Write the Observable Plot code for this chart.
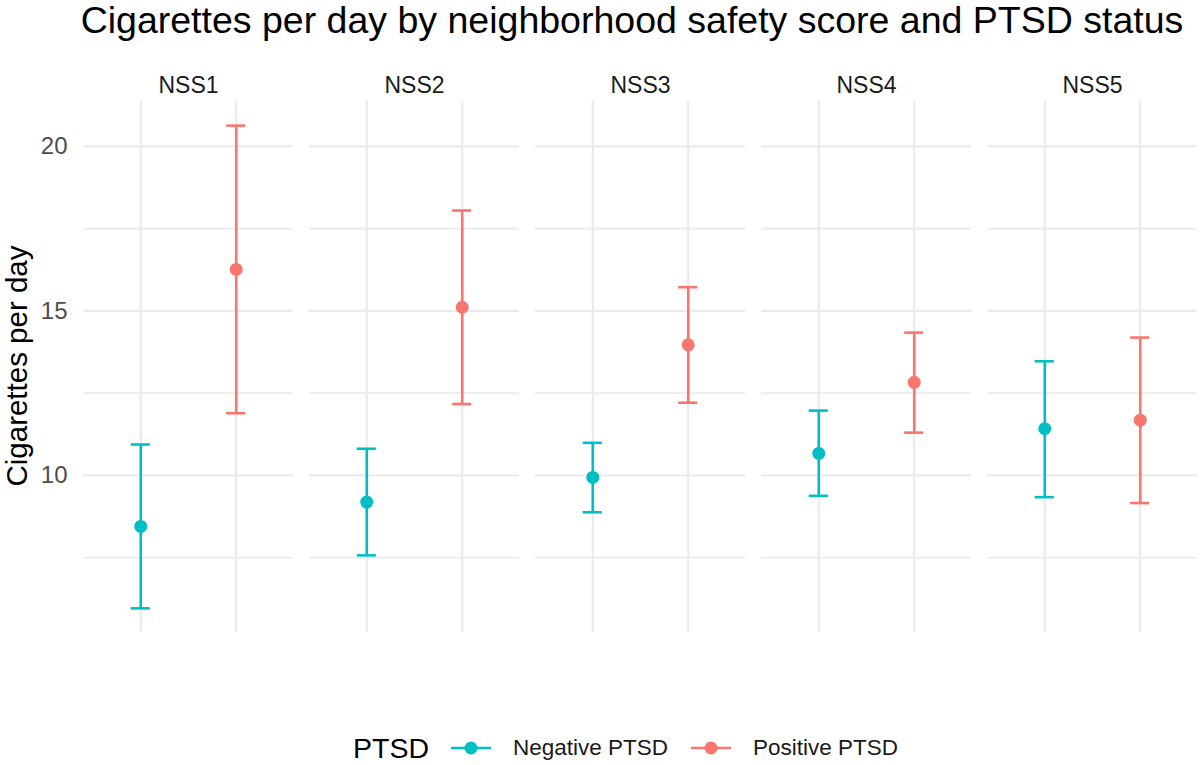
<!DOCTYPE html>
<html>
<head>
<meta charset="utf-8">
<script src="https://cdn.jsdelivr.net/npm/d3@7"></script>
<script src="https://cdn.jsdelivr.net/npm/@observablehq/plot@0.6"></script>
<style>
  html, body { margin: 0; padding: 0; background: #fff; }
  body { width: 1200px; height: 765px; position: relative; overflow: hidden; font-family: "Liberation Sans", Arial, sans-serif; }
  #title { position: absolute; left: 64px; width: 1136px; top: 2px; text-align: center; font-size: 37.5px; line-height: 37.5px; color: #000; white-space: nowrap; }
  #chart { position: absolute; left: 0; top: 48px; }
  #ylab { position: absolute; left: 17px; top: 366px; width: 400px; margin-left: -200px; margin-top: -15px; height: 30px; line-height: 30px; text-align: center; font-size: 29.5px; transform: rotate(-90deg); color: #000; white-space: nowrap; }
  #legend { position: absolute; left: 353px; top: 730px; height: 36px; display: flex; align-items: center; white-space: nowrap; }
  #legend .ltitle { font-size: 28.5px; color: #000; margin-right: 22px; }
  #legend .lkey { width: 40px; height: 20px; margin-right: 22px; }
  #legend .llab { font-size: 22.5px; color: #1A1A1A; margin-right: 23px; }
</style>
</head>
<body>
<div id="title">Cigarettes per day by neighborhood safety score and PTSD status</div>
<div id="chart"></div>
<div id="ylab">Cigarettes per day</div>
<div id="legend"></div>
<script>
// ---- data ----
const nssLevels = ["NSS1", "NSS2", "NSS3", "NSS4", "NSS5"];
const ptsdGroups = ["Negative PTSD", "Positive PTSD"];
const groupColors = ["#00BFC4", "#F8766D"];

const negMean  = [8.45, 9.19, 9.94, 10.67, 11.42];
const negLower = [5.96, 7.57, 8.88, 9.38, 9.34];
const negUpper = [10.94, 10.81, 10.99, 11.97, 13.47];

const posMean  = [16.26, 15.11, 13.97, 12.83, 11.68];
const posLower = [11.89, 12.17, 12.21, 11.30, 9.16];
const posUpper = [20.63, 18.05, 15.72, 14.34, 14.19];

const yTickValues = [10, 15, 20];
const yMinorGrid = [7.5, 12.5, 17.5];
const yAxisTitle = "Cigarettes per day";
const legendTitle = "PTSD";

// ---- table ----
const rows = [];
nssLevels.forEach((n, i) => {
  rows.push({nss: n, ptsd: ptsdGroups[0], mean: negMean[i], lower: negLower[i], upper: negUpper[i]});
  rows.push({nss: n, ptsd: ptsdGroups[1], mean: posMean[i], lower: posLower[i], upper: posUpper[i]});
});

const allVals = rows.flatMap(d => [d.lower, d.upper]);
const lo = d3.min(allVals), hi = d3.max(allVals);
const pad = (hi - lo) * 0.05;

const plot = Plot.plot({
  width: 1200,
  height: 652,
  marginTop: 53,
  marginBottom: 68,
  marginLeft: 83,
  marginRight: 3,
  style: {fontFamily: "'Liberation Sans', Arial, sans-serif", background: "#fff"},
  fx: {domain: nssLevels, paddingInner: 0.0708, paddingOuter: 0, round: false, axis: null},
  x: {type: "band", domain: ptsdGroups, paddingInner: 0.8, paddingOuter: 0.5, round: false, axis: null},
  y: {domain: [lo - pad, hi + pad], axis: null},
  color: {domain: ptsdGroups, range: groupColors},
  marks: [
    Plot.gridY(yMinorGrid, {stroke: "#EBEBEB", strokeOpacity: 1, strokeWidth: 1.6}),
    Plot.gridY(yTickValues, {stroke: "#EBEBEB", strokeOpacity: 1, strokeWidth: 2.2}),
    Plot.gridX({stroke: "#EBEBEB", strokeOpacity: 1, strokeWidth: 2.2}),
    Plot.axisY(yTickValues, {tickSize: 0, tickPadding: 16, fontSize: 24, color: "#4D4D4D", label: null}),
    Plot.text(nssLevels, {fx: d => d, text: d => d, frameAnchor: "top", dy: -24.5, fontSize: 23, fill: "#1A1A1A"}),
    Plot.ruleX(rows, {fx: "nss", x: "ptsd", y1: "lower", y2: "upper", stroke: "ptsd", strokeWidth: 2.6}),
    Plot.tickY(rows, {fx: "nss", x: "ptsd", y: "lower", stroke: "ptsd", strokeWidth: 2.6}),
    Plot.tickY(rows, {fx: "nss", x: "ptsd", y: "upper", stroke: "ptsd", strokeWidth: 2.6}),
    Plot.dot(rows, {fx: "nss", x: "ptsd", y: "mean", fill: "ptsd", r: 6.5})
  ]
});
document.getElementById("chart").appendChild(plot);

// y-axis title
document.getElementById("ylab").textContent = yAxisTitle;

// legend
const legend = document.getElementById("legend");
const t = document.createElement("span");
t.className = "ltitle";
t.textContent = legendTitle;
legend.appendChild(t);
ptsdGroups.forEach((g, i) => {
  const ns = "http://www.w3.org/2000/svg";
  const svg = document.createElementNS(ns, "svg");
  svg.setAttribute("class", "lkey");
  svg.setAttribute("width", 40);
  svg.setAttribute("height", 20);
  const line = document.createElementNS(ns, "line");
  line.setAttribute("x1", 0); line.setAttribute("x2", 40);
  line.setAttribute("y1", 10); line.setAttribute("y2", 10);
  line.setAttribute("stroke", groupColors[i]); line.setAttribute("stroke-width", 2.6);
  svg.appendChild(line);
  const c = document.createElementNS(ns, "circle");
  c.setAttribute("cx", 20); c.setAttribute("cy", 10); c.setAttribute("r", 6.5);
  c.setAttribute("fill", groupColors[i]);
  svg.appendChild(c);
  legend.appendChild(svg);
  const lab = document.createElement("span");
  lab.className = "llab";
  lab.textContent = g;
  legend.appendChild(lab);
});
</script>
</body>
</html>
